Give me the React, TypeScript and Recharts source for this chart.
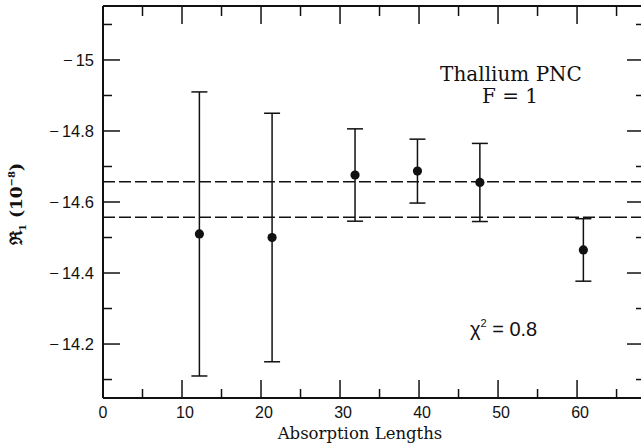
import { ErrorBar, ReferenceLine, Scatter, ScatterChart, XAxis, YAxis } from 'recharts';

const absorptionLengths = [12.2, 21.4, 31.9, 39.8, 47.7, 60.8];
const r1Values = [-14.51, -14.5, -14.676, -14.687, -14.655, -14.465];
const r1Errors = [0.4, 0.35, 0.13, 0.09, 0.11, 0.088];
const bandLimits = [-14.657, -14.557];

const xTicks = [0, 5, 10, 15, 20, 25, 30, 35, 40, 45, 50, 55, 60, 65];
const yTicks = [-15.1, -15, -14.9, -14.8, -14.7, -14.6, -14.5, -14.4, -14.3, -14.2, -14.1];

const X_DOMAIN: [number, number] = [0, 68.6];
const Y_DOMAIN: [number, number] = [-15.152, -14.048];

const data = absorptionLengths.map((x, i) => ({ x, y: r1Values[i], err: r1Errors[i] }));

const INK = '#111';
const SANS = '"Liberation Sans", Arial, sans-serif';
const SERIF = '"DejaVu Serif", serif';

const isMajorX = (v: number) => v % 10 === 0;
const isMajorY = (v: number) => Math.round(v * 10) % 2 === 0;
const fmtY = (v: number) => (v === -15 ? '15' : Math.abs(v).toFixed(1));

function BottomTick({ x, y, payload }: any) {
  const v = payload.value;
  const major = isMajorX(v);
  return (
    <g>
      <line x1={x} y1={y} x2={x} y2={y - (major ? 18 : 9)} stroke={INK} strokeWidth={1.5} />
      {major && v <= 60 && (
        <text x={x + (v === 0 ? 0 : 3)} y={y + 20} textAnchor="middle" fontFamily={SANS} fontSize={16} fill={INK}>
          {v}
        </text>
      )}
    </g>
  );
}

function TopTick({ x, y, payload }: any) {
  const major = isMajorX(payload.value);
  return <line x1={x} y1={y} x2={x} y2={y + (major ? 18 : 10)} stroke={INK} strokeWidth={1.5} />;
}

function LeftTick({ x, y, payload }: any) {
  const v = payload.value;
  const major = isMajorY(v);
  return (
    <g>
      <line x1={x} y1={y} x2={x + (major ? 17 : 9)} y2={y} stroke={INK} strokeWidth={1.5} />
      {major && (
        <text x={x - 9} y={y + 6} textAnchor="end" fontFamily={SANS} fontSize={16.5} fill={INK}>
          <tspan>−</tspan>
          <tspan dx={3}>{fmtY(v)}</tspan>
        </text>
      )}
    </g>
  );
}

function RightTick({ x, y, payload }: any) {
  const major = isMajorY(payload.value);
  return <line x1={x} y1={y} x2={x - (major ? 18 : 9)} y2={y} stroke={INK} strokeWidth={1.5} />;
}

const Dot = (props: any) => <circle cx={props.cx} cy={props.cy} r={4.6} fill={INK} />;
const NoDot = () => <g />;

export default function App() {
  return (
    <div style={{ position: 'fixed', left: 0, top: 0, width: 641, height: 444, overflow: 'hidden', background: '#fff' }}>
      <ScatterChart width={660} height={444} margin={{ top: 4, right: 13, bottom: 0, left: 0 }}>
        <XAxis
          xAxisId="b"
          type="number"
          dataKey="x"
          domain={X_DOMAIN}
          ticks={xTicks}
          interval={0}
          height={46}
          tickSize={0}
          tickMargin={0}
          tickLine={false}
          allowDataOverflow
          axisLine={{ stroke: INK, strokeWidth: 2 }}
          tick={<BottomTick />}
        />
        <XAxis
          xAxisId="t"
          orientation="top"
          type="number"
          dataKey="x"
          domain={X_DOMAIN}
          ticks={xTicks}
          interval={0}
          height={2}
          tickSize={0}
          tickMargin={0}
          tickLine={false}
          allowDataOverflow
          axisLine={{ stroke: INK, strokeWidth: 2 }}
          tick={<TopTick />}
        />
        <YAxis
          yAxisId="l"
          type="number"
          dataKey="y"
          reversed
          domain={Y_DOMAIN}
          ticks={yTicks}
          interval={0}
          width={103}
          tickSize={0}
          tickMargin={0}
          tickLine={false}
          allowDataOverflow
          axisLine={{ stroke: INK, strokeWidth: 2 }}
          tick={<LeftTick />}
        />
        <YAxis
          yAxisId="r"
          orientation="right"
          type="number"
          dataKey="y"
          reversed
          domain={Y_DOMAIN}
          ticks={yTicks}
          interval={0}
          width={2}
          tickSize={0}
          tickMargin={0}
          tickLine={false}
          allowDataOverflow
          axisLine={{ stroke: INK, strokeWidth: 2 }}
          tick={<RightTick />}
        />
        {bandLimits.map((v) => (
          <ReferenceLine
            key={v}
            xAxisId="b"
            yAxisId="l"
            y={v}
            stroke={INK}
            strokeWidth={1.5}
            strokeDasharray="12 4"
          />
        ))}
        {/* invisible copy so the top and right frame axes get drawn */}
        <Scatter xAxisId="t" yAxisId="r" data={data} shape={<NoDot />} isAnimationActive={false} />
        <Scatter xAxisId="b" yAxisId="l" data={data} shape={<Dot />} isAnimationActive={false}>
          <ErrorBar dataKey="err" direction="y" width={8} stroke={INK} strokeWidth={1.5} isAnimationActive={false} />
        </Scatter>
        <text x={511} y={81} textAnchor="middle" fontFamily={SERIF} fontSize={20} fill={INK}>
          Thallium PNC
        </text>
        <text x={510} y={103} textAnchor="middle" fontFamily={SERIF} fontSize={20} fill={INK}>
          F = 1
        </text>
        <text x={470} y={336} fontFamily={SANS} fontSize={20} fill={INK}>
          <tspan>χ</tspan>
          <tspan dy={-9} fontSize={11}>2</tspan>
          <tspan dy={9}> = 0.8</tspan>
        </text>
        <text x={360} y={439} textAnchor="middle" fontFamily={SERIF} fontSize={16.5} fill={INK}>
          Absorption Lengths
        </text>
        <text
          x={22}
          y={204}
          transform="rotate(-90 22 204)"
          textAnchor="middle"
          fontFamily={SERIF}
          fontSize={17}
          fontWeight="bold"
          fill={INK}
        >
          <tspan>ℜ</tspan>
          <tspan dy={4} fontSize={10}>1</tspan>
          <tspan dy={-4}> (10</tspan>
          <tspan dy={-7} fontSize={10}>−8</tspan>
          <tspan dy={7}>)</tspan>
        </text>
      </ScatterChart>
    </div>
  );
}
